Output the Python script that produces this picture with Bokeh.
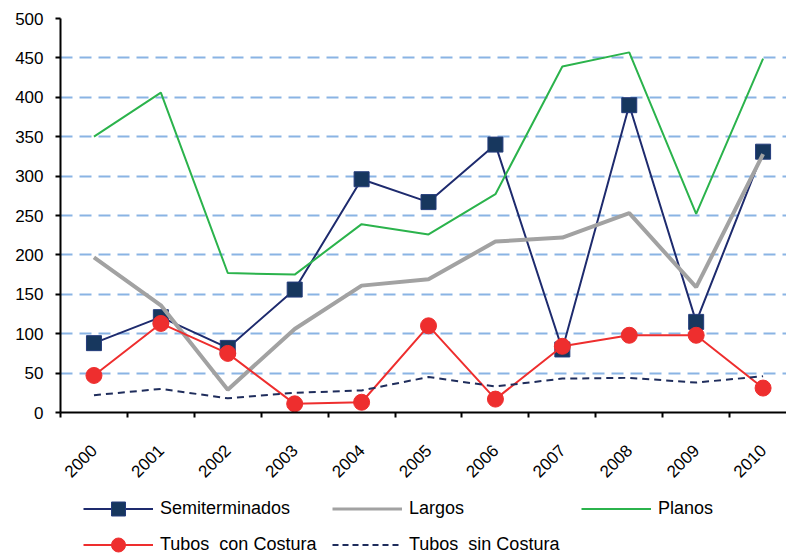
from bokeh.plotting import figure
from bokeh.layouts import column
from bokeh.models import FixedTicker, Legend, LegendItem
from bokeh.embed import file_html
from bokeh.resources import INLINE

# Annual volumes by product family
years = ["2000", "2001", "2002", "2003", "2004", "2005",
         "2006", "2007", "2008", "2009", "2010"]
semiterminados = [88, 121, 82, 156, 296, 267, 340, 80, 390, 115, 331]
largos = [197, 136, 29, 106, 161, 169, 217, 222, 253, 159, 328]
planos = [350, 406, 177, 175, 239, 226, 277, 439, 457, 252, 449]
tubos_con_costura = [47, 113, 75, 11, 13, 110, 17, 84, 98, 98, 31]
tubos_sin_costura = [22, 30, 18, 25, 28, 45, 33, 43, 44, 38, 46]
y_ticks = [0, 50, 100, 150, 200, 250, 300, 350, 400, 450, 500]

FONT = "Liberation Sans"

# series styles shared by the chart and its legend
STYLE = {
    "semi_line": dict(line_color="#1E2B6E", line_width=2),
    "semi_mark": dict(marker="square", fill_color="#17375E", line_color="#243C7C", line_width=1),
    "largos": dict(line_color="#A2A2A2", line_width=4),
    "planos": dict(line_color="#2BB34C", line_width=2),
    "tcc_line": dict(line_color="#EE2E2E", line_width=2),
    "tcc_mark": dict(marker="circle", fill_color="#EE2E2E", line_color="#EE2E2E"),
    "tsc": dict(line_color="#1F2D5C", line_width=2, line_dash="7 5"),
}

# one slot per year; points sit in the middle of each slot
xs = [i + 0.5 for i in range(len(years))]

p = figure(width=786, height=486, output_backend="svg", toolbar_location=None,
           x_range=(0, 10.85), y_range=(0, 500),
           min_border_left=60, min_border_right=0, min_border_top=18,
           min_border_bottom=74)
p.outline_line_color = None
p.background_fill_color = "white"
p.border_fill_color = "white"

# axes
p.xaxis.ticker = FixedTicker(ticks=xs, minor_ticks=list(range(len(years) + 1)))
p.xaxis.major_label_overrides = {x: y for x, y in zip(xs, years)}
p.xaxis.major_tick_out = 0
p.xaxis.major_tick_in = 0
p.xaxis.minor_tick_out = 5
p.xaxis.minor_tick_in = 0
p.xaxis.minor_tick_line_color = "black"
p.xaxis.minor_tick_line_width = 2
p.xaxis.major_label_orientation = 0.785398
p.xaxis.major_label_text_font = FONT
p.xaxis.major_label_text_font_size = "17px"
p.xaxis.major_label_text_color = "black"
p.xaxis.major_label_standoff = 30
p.xaxis.axis_line_color = "black"
p.xaxis.axis_line_width = 2

p.yaxis.ticker = FixedTicker(ticks=y_ticks)
p.yaxis.major_tick_out = 5
p.yaxis.major_tick_in = 0
p.yaxis.major_tick_line_width = 2
p.yaxis.minor_tick_out = 0
p.yaxis.minor_tick_in = 0
p.yaxis.major_label_text_font = FONT
p.yaxis.major_label_text_font_size = "17px"
p.yaxis.major_label_text_color = "black"
p.yaxis.major_label_standoff = 12
p.yaxis.axis_line_color = "black"
p.yaxis.axis_line_width = 2

p.xgrid.grid_line_color = None
p.ygrid.ticker = FixedTicker(ticks=y_ticks[1:])
p.ygrid.grid_line_color = "#8AB4E4"
p.ygrid.grid_line_width = 2
p.ygrid.grid_line_dash = "12 7"

# series, drawn in workbook order
p.line(xs, semiterminados, **STYLE["semi_line"])
p.scatter(xs, semiterminados, size=15, **STYLE["semi_mark"])
p.line(xs, largos, **STYLE["largos"])
p.line(xs, planos, **STYLE["planos"])
p.line(xs, tubos_con_costura, **STYLE["tcc_line"])
p.scatter(xs, tubos_con_costura, size=16, **STYLE["tcc_mark"])
p.line(xs, tubos_sin_costura, **STYLE["tsc"])

# legend strip under the chart; its key renderers sit outside the visible range
lg = figure(width=786, height=67, output_backend="svg", toolbar_location=None,
            x_range=(0, 786), y_range=(0, 67), x_axis_type=None, y_axis_type=None,
            min_border_left=0, min_border_right=0, min_border_top=0,
            min_border_bottom=0)
lg.outline_line_color = None
lg.grid.grid_line_color = None
lg.border_fill_color = "white"

off_x = [-200, -100]
off_y = [-200, -200]
k_semi_l = lg.line(off_x, off_y, **STYLE["semi_line"])
k_semi_m = lg.scatter(off_x, off_y, **STYLE["semi_mark"])
k_largos = lg.line(off_x, off_y, line_color="#A2A2A2", line_width=3)
k_planos = lg.line(off_x, off_y, **STYLE["planos"])
k_tcc_l = lg.line(off_x, off_y, **STYLE["tcc_line"])
k_tcc_m = lg.scatter(off_x, off_y, **STYLE["tcc_mark"])
k_tsc = lg.line(off_x, off_y, line_color="#1F2D5C", line_width=2, line_dash="6 4")

legend = Legend(items=[
    LegendItem(label="Semiterminados", renderers=[k_semi_l, k_semi_m]),
    LegendItem(label="Largos", renderers=[k_largos]),
    LegendItem(label="Planos", renderers=[k_planos]),
    LegendItem(label="Tubos  con Costura", renderers=[k_tcc_l, k_tcc_m]),
    LegendItem(label="Tubos  sin Costura", renderers=[k_tsc]),
], orientation="horizontal", ncols=3, location=(23, -9),
    glyph_width=70, glyph_height=35, label_height=35, label_width=171,
    label_standoff=7, spacing=1, padding=0, margin=0,
    border_line_color=None, background_fill_alpha=0,
    label_text_font=FONT, label_text_font_size="18px",
    label_text_color="black")
lg.add_layout(legend, "center")

open("out.html", "w").write(file_html(column(p, lg, spacing=0), INLINE))
